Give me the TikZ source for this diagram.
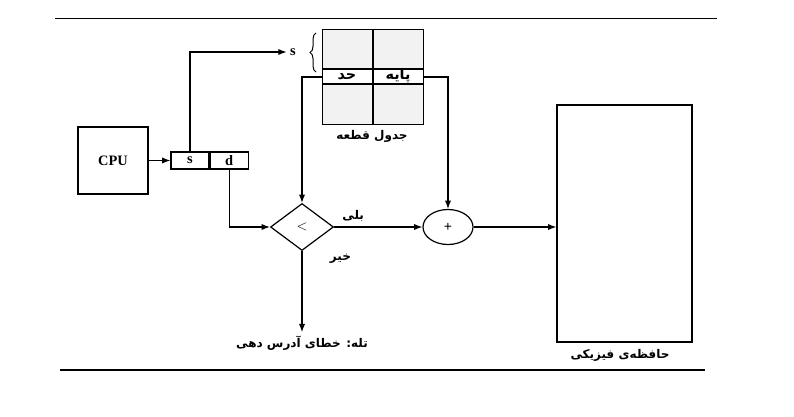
\documentclass[tikz,border=0pt]{standalone}
\usepackage{fontspec}
\setmainfont{Liberation Serif}
\newfontfamily\farsifont[Script=Arabic]{DejaVu Sans}
\TeXXeTstate=1
\newcommand{\fatxt}[1]{{\farsifont\bfseries\beginR #1\endR}}
\usetikzlibrary{arrows.meta, positioning, shapes.geometric, decorations.pathreplacing}
\tikzset{
  box/.style={rectangle,draw,line width=1.2pt,inner sep=0pt},
  cell/.style={rectangle,draw,line width=1.2pt,minimum width=38pt,minimum height=17pt,inner sep=0pt,font=\bfseries\Large},
  tabcell/.style={rectangle,draw,line width=1pt,fill=gray!10,minimum width=50pt,minimum height=39pt,inner sep=0pt},
  tabhead/.style={rectangle,draw,line width=1pt,minimum width=50pt,minimum height=14pt,inner sep=0pt,text height=8pt,text depth=2pt,font=\Large},
  decision/.style={diamond,draw,line width=1.2pt,aspect=1.34,minimum width=63pt,minimum height=47pt,inner sep=0pt},
  adder/.style={ellipse,draw,line width=1.2pt,minimum width=50pt,minimum height=35pt,inner sep=0pt},
  caption/.style={font=\large},
  line/.style={-Latex,line width=1.2pt}
}

\begin{document}
\begin{tikzpicture}[x=1pt,y=-1pt]
\useasboundingbox (0,0) rectangle (794,417);
% page rules
\draw[line width=0.8pt] (55,18) -- (717,18);
\draw[line width=1.5pt] (60,370) -- (705,370);

% cpu and logical address
\node[box, minimum width=70pt, minimum height=67pt, font=\bfseries\Large] (cpu) at (113,160.5) {CPU};
\node[cell] (scell) at (190,160.5) {s};
\node[cell, right=0pt of scell] (dcell) {d};

% segment table
\node[tabcell] (tl) at (347,49.5) {};
\node[tabcell, right=0pt of tl] (tr) {};
\node[tabhead, below=0pt of tl] (hl) {\fatxt{حد}};
\node[tabhead, below=0pt of tr] (hr) {\fatxt{پایه}};
\node[tabcell, below=0pt of hl] (bl) {};
\node[tabcell, below=0pt of hr] (br) {};
\node[caption] (tabcap) at (372,136) {\fatxt{جدول قطعه}};
\draw[decorate, decoration={brace, amplitude=6pt}, line width=1pt] (316,72) -- (316,33);
\node[font=\bfseries\Large] (sidx) at (293,52) {s};

% compare and add
\node[decision] (cmp) at (302,227) {\Large $<$};
\node[adder] (add) at (448,227) {\Large\bfseries +};
\node[caption] (trap) at (302,343) {\fatxt{تله: خطای آدرس دهی}};

% physical memory
\node[box, minimum width=135pt, minimum height=237pt] (mem) at (624.5,223.5) {};
\node[caption] (memcap) at (620,355) {\fatxt{حافظه‌ی فیزیکی}};

% connectors
\draw[line] (cpu.east) -- (scell.west);
\draw[line] (scell.north) |- (sidx.west);
\draw[line] (hl.west) -| (cmp.north);
\draw[line] (hr.east) -| (add.north);
\draw[line] (dcell.south) |- (cmp.west);
\draw[line] (cmp.east) -- node[caption, above right=1pt and 0pt, pos=0.05] (yes) {\fatxt{بلی}} (add.west);
\draw[line] (cmp.south) -- node[caption, right=24pt, pos=0.1] (no) {\fatxt{خیر}} (trap.north);
\draw[line] (add.east) -- (add -| mem.west);
\end{tikzpicture}
\end{document}
